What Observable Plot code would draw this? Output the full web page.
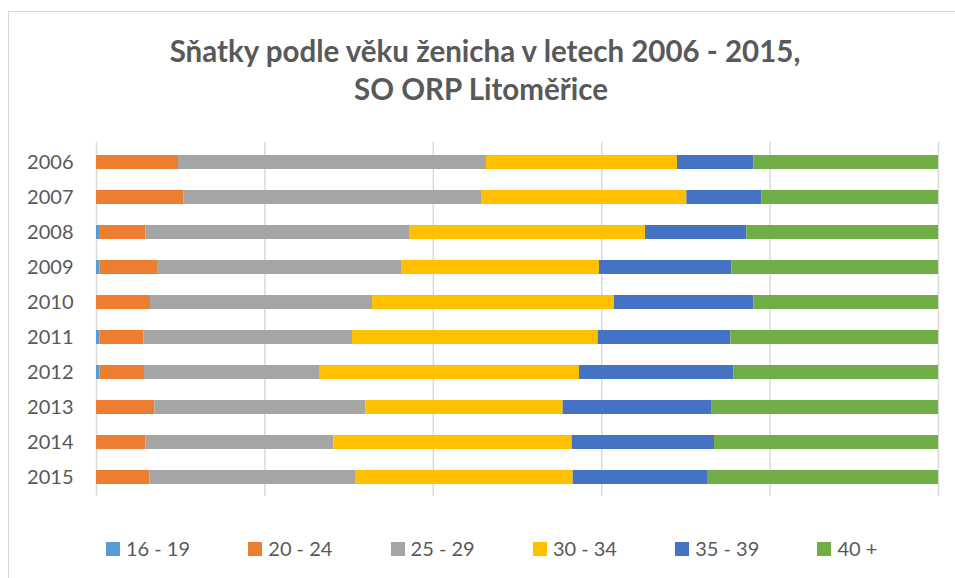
<!DOCTYPE html>
<html>
<head>
<meta charset="utf-8">
<script src="https://cdn.jsdelivr.net/npm/d3@7"></script>
<script src="https://cdn.jsdelivr.net/npm/@observablehq/plot@0.6"></script>
<style>
  html, body { margin: 0; padding: 0; background: #fff; }
  #wrap { position: relative; width: 955px; height: 578px; overflow: hidden; background: #fff; font-family: Lato, "Open Sans", sans-serif; color: #595959; }
  #frame { position: absolute; left: 8px; top: 11px; width: 1200px; height: 1200px; border: 1.5px solid #d9d9d9; box-sizing: border-box; }
  .title { position: absolute; left: 0; width: 970px; text-align: center; font-weight: 700; font-size: 29.5px; line-height: 29.5px; white-space: nowrap; }
  #chart { position: absolute; left: 0; top: 0; }
  #legend { position: absolute; left: 106px; top: 538px; display: flex; }
  .item { width: 142.3px; display: flex; align-items: flex-start; font-size: 20px; line-height: 20px; white-space: nowrap; }
  .sw { width: 14px; height: 14px; margin-top: 3.7px; margin-right: 6px; flex: none; }
</style>
</head>
<body>
<div id="wrap">
  <div id="frame"></div>
  <div class="title" id="t1" style="top:35.6px"></div>
  <div class="title" id="t2" style="top:74.4px;width:962px"></div>
  <div id="chart"></div>
  <div id="legend"></div>
</div>
<script>
const titleLines = ["Sňatky podle věku ženicha v letech 2006 - 2015,", "SO ORP Litoměřice"];
const years = ["2006", "2007", "2008", "2009", "2010", "2011", "2012", "2013", "2014", "2015"];
const groups = ["16 - 19", "20 - 24", "25 - 29", "30 - 34", "35 - 39", "40 +"];
const colors = ["#5B9BD5", "#ED7D31", "#A5A5A5", "#FFC000", "#4472C4", "#70AD47"];
const gridTicks = [0, 0.2, 0.4, 0.6, 0.8, 1];

// share of grooms (%) by age group, per year
const g16_19 = [0.0, 0.0, 0.36, 0.39, 0.0, 0.39, 0.39, 0.0, 0.0, 0.0];
const g20_24 = [9.74, 10.37, 5.50, 6.85, 6.41, 5.23, 5.31, 6.92, 5.86, 6.33];
const g25_29 = [36.58, 35.36, 31.32, 29.06, 26.37, 24.79, 20.78, 25.06, 22.33, 24.43];
const g30_34 = [22.68, 24.38, 28.03, 23.43, 28.74, 29.18, 30.88, 23.44, 28.31, 25.85];
const g35_39 = [9.06, 8.91, 12.03, 15.71, 16.54, 15.75, 18.33, 17.70, 16.90, 15.95];
const g40p = [21.94, 20.98, 22.77, 24.55, 21.94, 24.67, 24.31, 26.88, 26.60, 27.43];
const series = [g16_19, g20_24, g25_29, g30_34, g35_39, g40p];

const data = years.flatMap((year, i) =>
  groups.map((group, j) => ({year, group, value: series[j][i]}))
);

document.getElementById("t1").textContent = titleLines[0];
document.getElementById("t2").textContent = titleLines[1];

const chart = Plot.plot({
  width: 955,
  height: 578,
  marginLeft: 96,
  marginRight: 17,
  marginTop: 142,
  marginBottom: 82,
  style: {fontFamily: "Lato, 'Open Sans', sans-serif", fontSize: "20px", color: "#595959", background: "transparent", overflow: "visible"},
  x: {domain: [0, 1], axis: null},
  y: {domain: years, paddingInner: 0.6, paddingOuter: 0.3, axis: null},
  color: {domain: groups, range: colors},
  marks: [
    Plot.ruleX(gridTicks, {stroke: "#d9d9d9", strokeWidth: 1.5}),
    Plot.barX(data, Plot.stackX({x: "value", y: "year", fill: "group", order: groups, offset: "normalize"})),
    Plot.axisY({tickSize: 0, tickPadding: 23, label: null, fontSize: 20, fill: "#595959"})
  ]
});
document.getElementById("chart").appendChild(chart);

const legend = document.getElementById("legend");
groups.forEach((g, i) => {
  const item = document.createElement("div");
  item.className = "item";
  const sw = document.createElement("span");
  sw.className = "sw";
  sw.style.background = colors[i];
  const lab = document.createElement("span");
  lab.textContent = g;
  item.appendChild(sw);
  item.appendChild(lab);
  legend.appendChild(item);
});
</script>
</body>
</html>
